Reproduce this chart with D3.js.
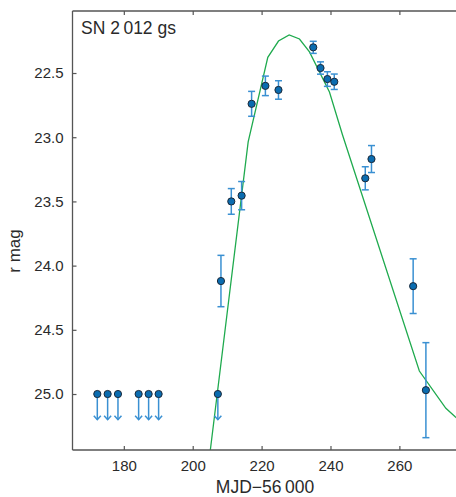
<!DOCTYPE html>
<html><head><meta charset="utf-8">
<script src="https://cdn.jsdelivr.net/npm/d3@7"></script>
<style>body{margin:0;background:#fff}svg{display:block}text{font-family:"Liberation Sans",Arial,sans-serif}</style>
</head><body><svg id="c" width="456" height="497"></svg>
<script>
const detMJD = [208.2, 211.2, 214.2, 217.1, 221.1, 224.9, 235.0, 237.1, 239.1, 241.1, 250.1, 251.9, 264.0, 267.7];
const detMag = [24.12, 23.50, 23.455, 22.74, 22.60, 22.632, 22.30, 22.461, 22.547, 22.568, 23.32, 23.17, 24.16, 24.97];
const detErr = [0.20, 0.10, 0.11, 0.097, 0.076, 0.072, 0.047, 0.048, 0.057, 0.06, 0.09, 0.105, 0.213, 0.37];
const limMJD = [172.3, 175.3, 178.3, 184.3, 187.2, 190.1, 207.3];
const limMag = [25.0, 25.0, 25.0, 25.0, 25.0, 25.0, 25.0];
const modelMJD = [205.1, 216.1, 221.8, 224.9, 228.0, 231.0, 233.9, 239.7, 243.5, 265.8, 273.5, 276.2, 280.0];
const modelMag = [25.44, 23.037, 22.378, 22.251, 22.204, 22.235, 22.336, 22.648, 22.983, 24.821, 25.111, 25.177, 25.26];
const xTicks = [180, 200, 220, 240, 260];
const yTicks = [22.5, 23.0, 23.5, 24.0, 24.5, 25.0];
const label = "SN 2\u2009012 gs";
const xLabel = "MJD\u221256\u2009000";
const yLabel = "r mag";

const svg = d3.select("#c");
const L = 72.5, R = 460, T = 11, B = 450;
const x = d3.scaleLinear().domain([165.1, 277.6]).range([L, R]);
const y = d3.scaleLinear().domain([22.017, 25.436]).range([T, B]);
const axisCol = "#555", txtCol = "#2a2a2a";
const barCol = "#3a90d2", ptFill = "#0a6cb0", ptStroke = "#1b2838";

svg.append("clipPath").attr("id","clip").append("rect").attr("x",L).attr("y",T).attr("width",R-L).attr("height",B-T);

const line = d3.line().x((d,i)=>x(modelMJD[i])).y((d,i)=>y(modelMag[i]));
svg.append("path").datum(modelMJD).attr("d", line).attr("fill","none")
  .attr("stroke","#1faa4e").attr("stroke-width",1.3).attr("clip-path","url(#clip)");

const g = svg.append("g");
detMJD.forEach((m,i)=>{
  const cx = x(m), y1 = y(detMag[i]-detErr[i]), y2 = y(detMag[i]+detErr[i]);
  g.append("line").attr("x1",cx).attr("x2",cx).attr("y1",y1).attr("y2",y2).attr("stroke",barCol).attr("stroke-width",1.5);
  [y1,y2].forEach(yy=>g.append("line").attr("x1",cx-3.5).attr("x2",cx+3.5).attr("y1",yy).attr("y2",yy).attr("stroke",barCol).attr("stroke-width",1.5));
});
limMJD.forEach((m,i)=>{
  const cx = x(m), y0 = y(limMag[i]), y1 = y(limMag[i]+0.2);
  g.append("line").attr("x1",cx).attr("x2",cx).attr("y1",y0).attr("y2",y1).attr("stroke",barCol).attr("stroke-width",1.5);
  g.append("path").attr("d",`M${cx-3.5},${y1-4}L${cx},${y1}L${cx+3.5},${y1-4}`).attr("fill","none").attr("stroke",barCol).attr("stroke-width",1.5);
});
limMJD.forEach((m,i)=>g.append("circle").attr("cx",x(m)).attr("cy",y(limMag[i])).attr("r",3.6).attr("fill",ptFill).attr("stroke",ptStroke).attr("stroke-width",1));
detMJD.forEach((m,i)=>g.append("circle").attr("cx",x(m)).attr("cy",y(detMag[i])).attr("r",3.6).attr("fill",ptFill).attr("stroke",ptStroke).attr("stroke-width",1));

const ax = svg.append("g").attr("transform",`translate(0,${B})`).call(d3.axisBottom(x).tickValues(xTicks).tickSize(-4).tickPadding(10).tickFormat(d3.format("d")));
const ay = svg.append("g").attr("transform",`translate(${L},0)`).call(d3.axisLeft(y).tickValues(yTicks).tickSize(-4).tickPadding(9).tickFormat(d3.format(".1f")));
const at = svg.append("g").attr("transform",`translate(0,${T})`).call(d3.axisTop(x).tickValues(xTicks).tickSize(-4).tickFormat(""));
[ax,ay,at].forEach(a=>{
  a.select(".domain").attr("stroke",axisCol).attr("stroke-width",1.3);
  a.selectAll(".tick line").attr("stroke",axisCol).attr("stroke-width",1.2);
  a.selectAll("text").attr("fill",txtCol).style("font-size","15px").style("font-family","'Liberation Sans',Arial,sans-serif");
});
at.select(".domain").attr("d",`M${L},0H${R}`);
ax.select(".domain").attr("d",`M${L},0H${R}`);
ay.select(".domain").attr("d",`M0,${T}V${B}`);

svg.append("text").attr("x",81).attr("y",34).attr("fill",txtCol).style("font-size","17.5px").text(label);
svg.append("text").attr("x",265).attr("y",493).attr("text-anchor","middle").attr("fill",txtCol).style("font-size","17.5px").text(xLabel);
svg.append("text").attr("transform","translate(20,251) rotate(-90)").attr("text-anchor","middle").attr("fill",txtCol).style("font-size","17px").text(yLabel);
</script></body></html>
